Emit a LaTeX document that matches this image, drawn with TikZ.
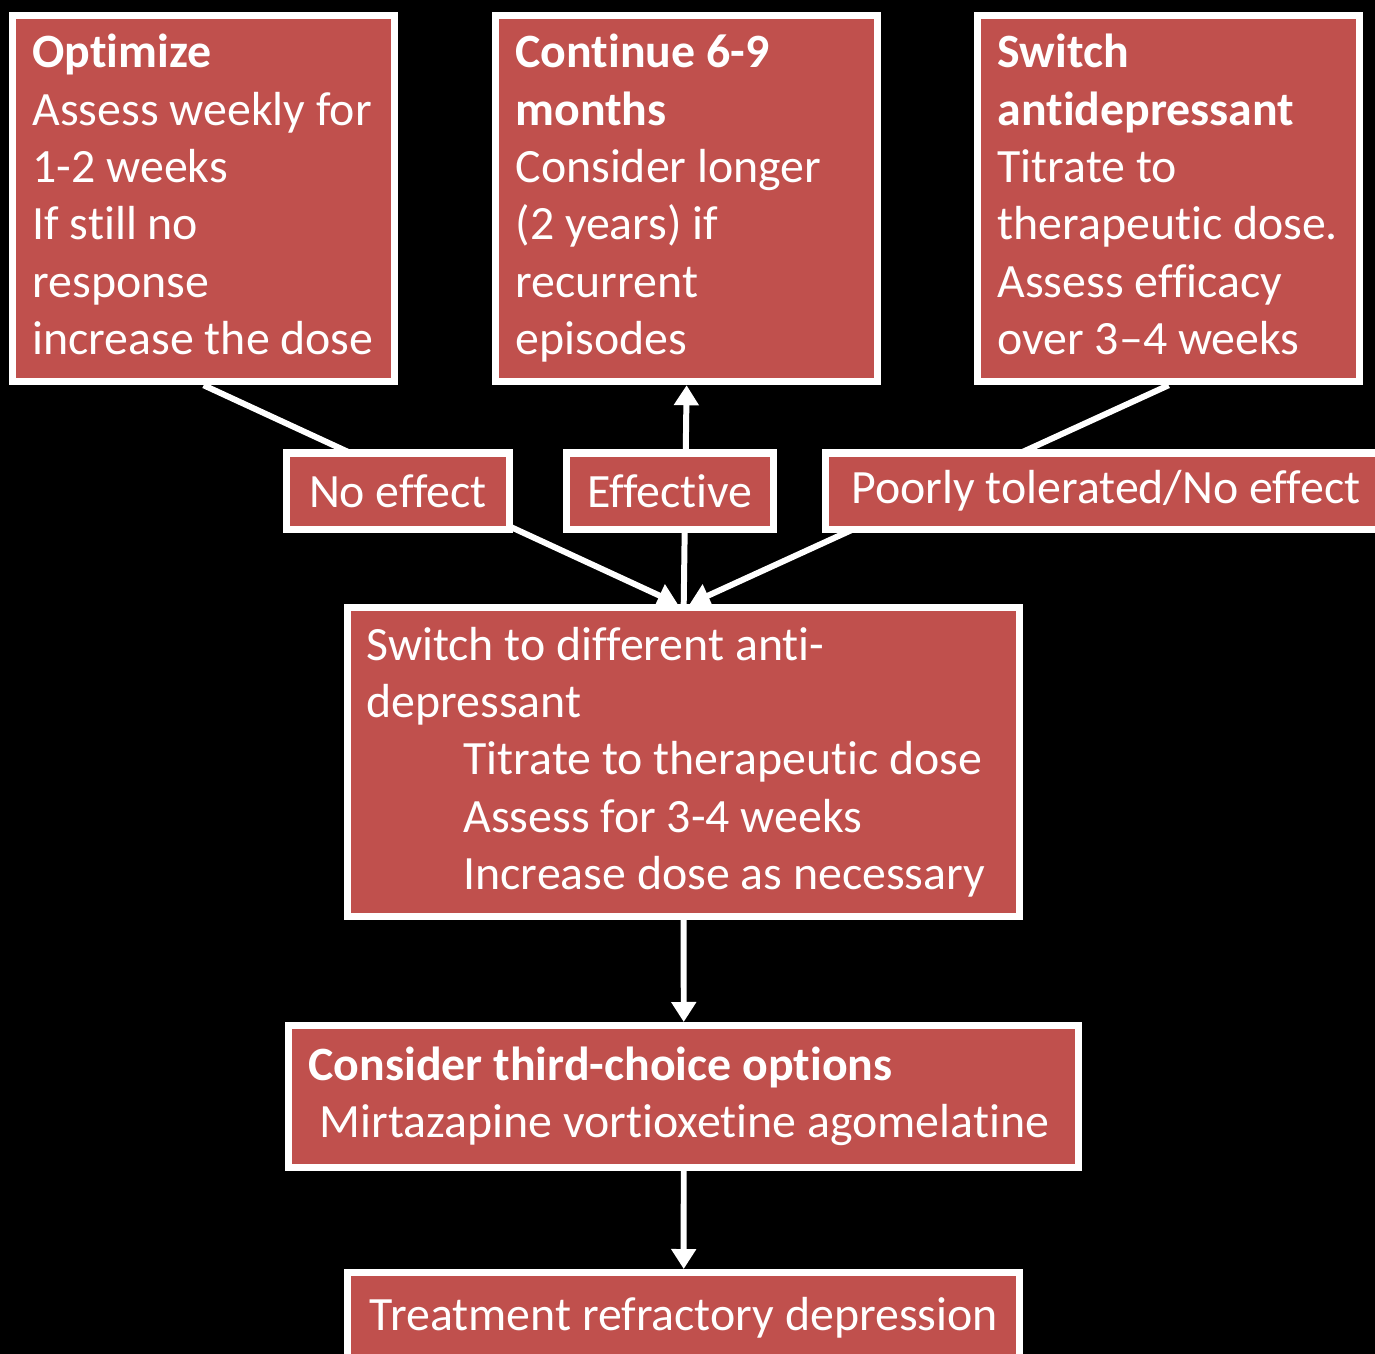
\documentclass[tikz,border=0pt]{standalone}
\usepackage{fontspec}
\setmainfont{Carlito}[Ligatures=CommonOff]
\usepackage{tikz}
\usetikzlibrary{arrows.meta}
\definecolor{boxred}{RGB}{192,80,77}

\tikzset{
  box/.style={draw=white, line width=2pt, fill=boxred, text=white, align=flush left,
    font=\fontsize{13.6}{16.3}\selectfont, inner ysep=0pt,
    execute at begin node={\hyphenpenalty=10000\exhyphenpenalty=10000}},
  topbox/.style={box, anchor=north west, text width=3.42cm, inner xsep=0.2cm, minimum height=3.66cm,
    execute at end node={\rule[-2.4pt]{0pt}{0pt}}},
  tagbox/.style={box, minimum height=0.76cm, align=center},
  link/.style={white, line width=1.7pt, -{Triangle[width=0.24cm,length=0.2cm]}}
}

\begin{document}
\begin{tikzpicture}[x=0.01cm, y=-0.01cm]
\clip (0,0) rectangle (1375,1354);
\fill[black] (0,0) rectangle (1375,1354);
\useasboundingbox (0,0) rectangle (1375,1354);

% top row
\node[topbox] (optimize) at (9,12) {\textbf{Optimize}\\Assess weekly for\\1-2 weeks\\If still no\\response\\increase the dose};
\node[topbox] (continue) at (492,12) {\textbf{Continue 6-9}\\\textbf{months}\\Consider longer\\(2 years) if\\recurrent\\episodes};
\node[topbox] (switch) at (974,12) {\textbf{Switch}\\\textbf{antidepressant}\\Titrate to\\therapeutic dose.\\Assess efficacy\\over 3--4 weeks};

% middle
\node[box, anchor=north west, text width=6.34cm, inner xsep=0.19cm, minimum height=3.09cm] (different) at (344,604)
  {Switch to different anti-\\depressant\\\hspace*{0.97cm}Titrate to therapeutic dose\\\hspace*{0.97cm}Assess for 3-4 weeks\\\hspace*{0.97cm}Increase dose as necessary};
\node[box, anchor=north west, text width=7.5cm, inner xsep=0.2cm, minimum height=1.42cm] (third) at (285,1022)
  {\textbf{Consider third-choice options}\\\hspace*{0.11cm}Mirtazapine vortioxetine agomelatine};
\node[box, anchor=north west, minimum width=6.72cm, minimum height=0.9cm, align=center] (refractory) at (344,1269)
  {Treatment refractory depression};

% connectors
\draw[link] (optimize.south) -- ([xshift=-0.06cm]different.north);
\draw[link] (switch.south) -- ([xshift=0.06cm]different.north);
\draw[link] (different.north) -- (continue.south);
\draw[link] (different.south) -- (third.north);
\draw[link] (third.south) -- (refractory.north);

% branch labels
\node[tagbox, minimum width=2.22cm] (noeffect) at (398,491) {No effect};
\node[tagbox, minimum width=2.07cm] (effective) at (670,491) {Effective};
\node[tagbox, anchor=west, align=flush left, text width=5.5cm, inner xsep=0.26cm] (poorly) at (822,491) {Poorly tolerated/No effect};
\end{tikzpicture}
\end{document}
